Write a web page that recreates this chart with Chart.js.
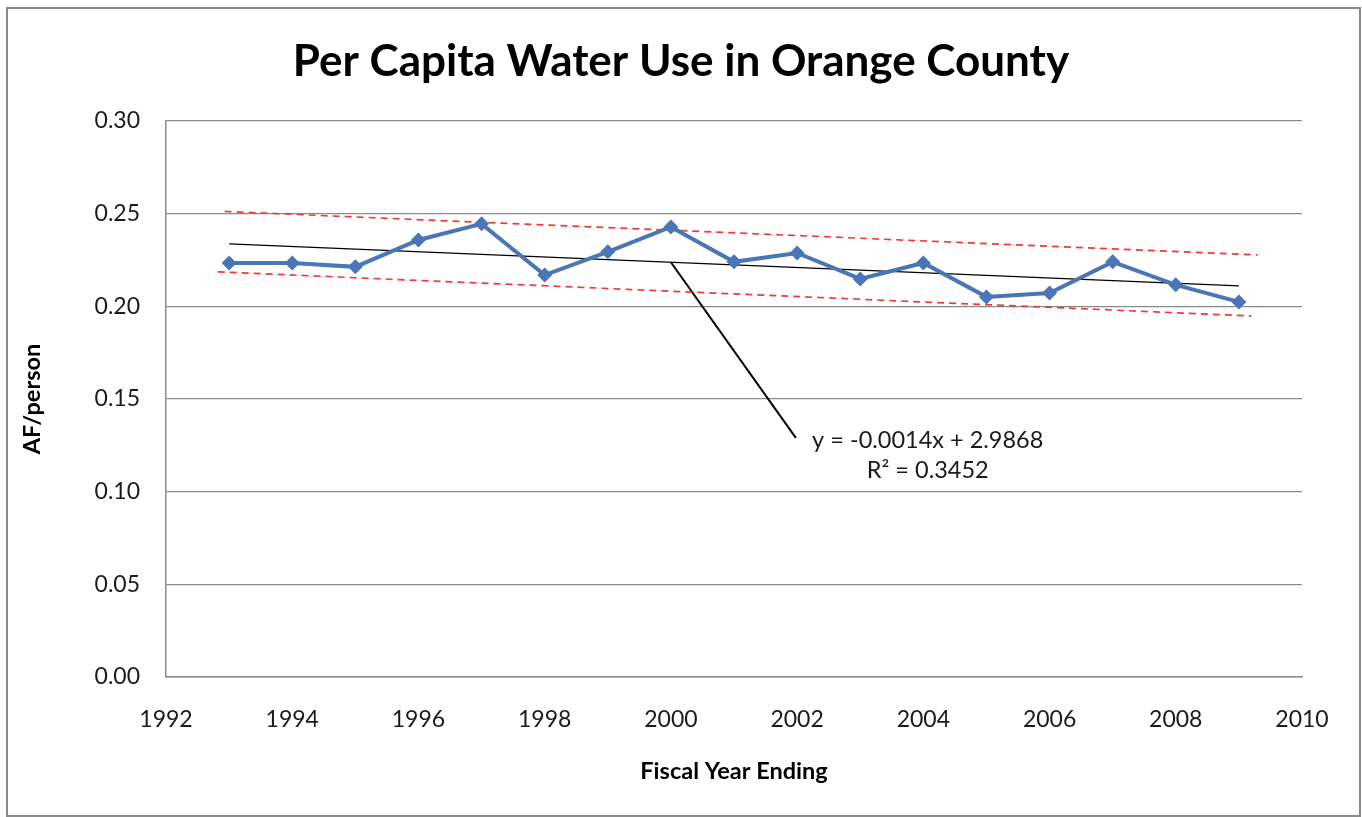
<!DOCTYPE html>
<html>
<head>
<meta charset="utf-8">
<title>Per Capita Water Use in Orange County</title>
<script src="https://cdn.jsdelivr.net/npm/chart.js@4"></script>
<style>
  html, body { margin: 0; padding: 0; background: #fff; }
  #wrap { position: relative; width: 1362px; height: 817px; }
  #frame {
    position: absolute; left: 6px; top: 7px; width: 1351px; height: 806px;
    border: 2px solid #8a8a8a; pointer-events: none;
  }
</style>
</head>
<body>
<div id="wrap">
  <canvas id="myChart" width="1362" height="817"></canvas>
  <div id="frame"></div>
</div>
<script>
// acre-feet per person, by fiscal year ending
const years = [1993, 1994, 1995, 1996, 1997, 1998, 1999, 2000, 2001,
               2002, 2003, 2004, 2005, 2006, 2007, 2008, 2009];
const afPerPerson = [0.2234, 0.2234, 0.2213, 0.2358, 0.2445, 0.2169, 0.2294, 0.2428, 0.2240,
                     0.2288, 0.2148, 0.2234, 0.2051, 0.2072, 0.2240, 0.2116, 0.2024];

// linear trend and the two dashed band lines (start / end)
const trendX = [1993, 2009];
const trendY = [0.2337, 0.2110];
const upperX = [1992.93, 2009.3];
const upperY = [0.2512, 0.2277];
const lowerX = [1992.82, 2009.2];
const lowerY = [0.2186, 0.1948];

// pointer from the trend line to the equation label
const pointerX = [2000, 2001.98];
const pointerY = [0.2238, 0.1290];

const equationLines = ['y = -0.0014x + 2.9868', 'R\u00B2 = 0.3452'];
const equationAt = { x: 2004.07, y: [0.1279, 0.1117] };

const yTicks = [0, 0.05, 0.10, 0.15, 0.20, 0.25, 0.30];

const chartTitle = 'Per Capita Water Use in Orange County';

const FONT = 'Lato, "Open Sans", sans-serif';

function pts(xs, ys) {
    return xs.map(function(x, i) { return { x: x, y: ys[i] }; });
}

// title centred on the whole canvas, equation text at data coordinates
const extraText = {
    id: 'extraText',
    afterDatasetsDraw: function(chart) {
        var ctx = chart.ctx;
        var xs = chart.scales.x, ys = chart.scales.y;
        ctx.save();
        ctx.textAlign = 'center';
        ctx.textBaseline = 'middle';

        ctx.font = 'bold 44px ' + FONT;
        ctx.fillStyle = '#000';
        ctx.fillText(chartTitle, chart.width / 2, 62);

        ctx.font = '23.5px ' + FONT;
        ctx.fillStyle = '#1a1a1a';
        equationLines.forEach(function(t, i) {
            ctx.fillText(t, xs.getPixelForValue(equationAt.x), ys.getPixelForValue(equationAt.y[i]));
        });
        ctx.restore();
    }
};

var ctx = document.getElementById('myChart').getContext('2d');
var myChart = new Chart(ctx, {
    type: 'line',
    data: {
        datasets: [{
            label: 'AF/person',
            data: pts(years, afPerPerson),
            borderColor: '#4a76b6',
            backgroundColor: '#4a76b6',
            borderWidth: 4,
            pointStyle: 'rectRot',
            pointRadius: 7.5,
            pointBorderWidth: 0,
            tension: 0
        }, {
            label: 'trend',
            data: pts(trendX, trendY),
            borderColor: '#000',
            borderWidth: 1.3,
            pointRadius: 0
        }, {
            label: 'upper',
            data: pts(upperX, upperY),
            borderColor: '#f03a3a',
            borderWidth: 1.7,
            borderDash: [7, 5],
            pointRadius: 0
        }, {
            label: 'lower',
            data: pts(lowerX, lowerY),
            borderColor: '#f03a3a',
            borderWidth: 1.7,
            borderDash: [7, 5],
            pointRadius: 0
        }, {
            label: 'pointer',
            data: pts(pointerX, pointerY),
            borderColor: '#000',
            borderWidth: 2,
            pointRadius: 0
        }]
    },
    options: {
        responsive: false,
        animation: false,
        layout: { padding: { left: 0, right: 60, top: 121, bottom: 0 } },
        plugins: {
            legend: { display: false },
            tooltip: { enabled: false },
            title: { display: false }
        },
        scales: {
            x: {
                type: 'linear',
                min: 1992,
                max: 2010,
                grid: { display: false, drawTicks: false },
                border: { display: true, color: '#8a8a8a', width: 1.5 },
                ticks: {
                    stepSize: 2,
                    padding: 29,
                    color: '#1a1a1a',
                    font: { family: FONT, size: 23 },
                    callback: function(v) { return String(v); }
                },
                title: {
                    display: true,
                    text: 'Fiscal Year Ending',
                    color: '#000',
                    font: { family: FONT, size: 23.5, weight: 'bold' },
                    padding: { top: 0, bottom: 31 }
                },
                afterFit: function(scale) { scale.height = 140; }
            },
            y: {
                min: 0,
                max: 0.30,
                afterBuildTicks: function(scale) {
                    scale.ticks = yTicks.map(function(v) { return { value: v }; });
                },
                grid: { color: '#8a8a8a', lineWidth: 1.2, drawTicks: false },
                border: { display: true, color: '#8a8a8a', width: 1.5 },
                ticks: {
                    padding: 26,
                    color: '#1a1a1a',
                    font: { family: FONT, size: 23 },
                    callback: function(v) { return Number(v).toFixed(2); }
                },
                title: {
                    display: true,
                    text: 'AF/person',
                    color: '#000',
                    font: { family: FONT, size: 23.5, weight: 'bold' },
                    padding: { top: 18, bottom: 0 }
                },
                afterFit: function(scale) { scale.width = 166; }
            }
        }
    },
    plugins: [extraText]
});
</script>
</body>
</html>
